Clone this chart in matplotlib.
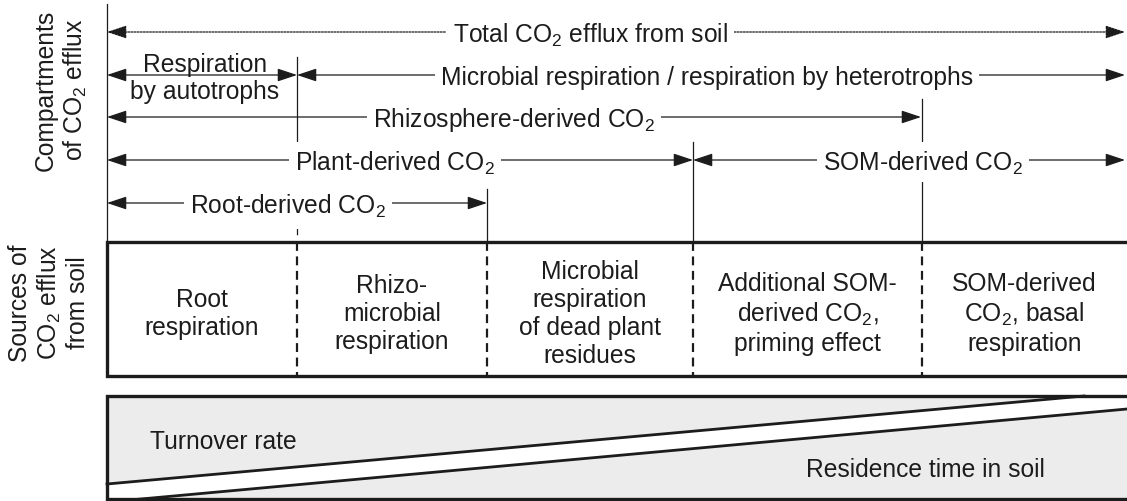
import matplotlib
matplotlib.use('Agg')
import matplotlib.pyplot as plt
from matplotlib.patches import Polygon

plt.rcParams['font.family'] = ['Liberation Sans', 'DejaVu Sans']
plt.rcParams['mathtext.default'] = 'regular'
plt.rcParams['hatch.color'] = '#d4d4d4'
plt.rcParams['hatch.linewidth'] = 0.6

## arrows of the compartments part (pixel coords of the picture)
arrow_y = [33, 76, 76, 118, 161, 161, 204]
arrow_x0 = [107, 107, 297, 107, 107, 693, 107]
arrow_x1 = [1125, 297, 1125, 921, 693, 1125, 487]
arrow_ls = [(0, (1.5, 1)), '-', '-', '-', '-', '-', '-']
arrow_labels = ['Total CO$_2$ efflux from soil',
                'Respiration\nby autotrophs',
                'Microbial respiration / respiration by heterotrophs',
                'Rhizosphere-derived CO$_2$',
                'Plant-derived CO$_2$',
                'SOM-derived CO$_2$',
                'Root-derived CO$_2$']
label_x = [590, 205, 707, 514, 395, 923, 288]
label_masked = [True, False, True, True, True, True, True]

## vertical guide lines
vline_x = [107, 297, 297, 487, 693, 922]
vline_y0 = [5, 58, 147, 190, 143, 100]
vline_y1 = [243, 147, 243, 243, 243, 243]
vline_ls = ['-', '-', (0, (5, 6)), '-', '-', '-']

## sources box
cell_edges = [107, 297, 487, 693, 922, 1127]
cell_labels = ['Root\nrespiration',
               'Rhizo-\nmicrobial\nrespiration',
               'Microbial\nrespiration\nof dead plant\nresidues',
               'Additional SOM-\nderived CO$_2$,\npriming effect',
               'SOM-derived\nCO$_2$, basal\nrespiration']
box_top, box_bottom = 243, 377

## turnover / residence box
lower_top, lower_bottom = 397, 500
turnover_line = [(107, 485), (1084, 397)]
residence_line = [(130, 501), (1127, 410)]

fs = 17.7
ink = '#1c1c1c'

fig = plt.figure(figsize=(11.27, 5.02), dpi=100)
ax = fig.add_axes([0, 0, 1, 1])
ax.set_xlim(0, 1127)
ax.set_ylim(502, 0)
ax.axis('off')

## vertical lines
for i in range(len(vline_x)):
    ax.plot([vline_x[i], vline_x[i]], [vline_y0[i], vline_y1[i]],
            color=ink, lw=0.9, ls=vline_ls[i], zorder=1)

## arrows + labels
for i in range(len(arrow_y)):
    ax.annotate('', xy=(arrow_x1[i], arrow_y[i]), xytext=(arrow_x0[i], arrow_y[i]),
                arrowprops=dict(arrowstyle='<|-|>,head_length=0.6,head_width=0.2',
                                color=ink, lw=0.9, ls=arrow_ls[i],
                                shrinkA=0, shrinkB=0, mutation_scale=20),
                zorder=2)
    if label_masked[i]:
        ax.text(label_x[i], arrow_y[i] + 2, arrow_labels[i], ha='center', va='center',
                fontsize=fs, color=ink, zorder=3,
                bbox=dict(boxstyle='square,pad=0.25', fc='white', ec='none'))
    else:
        ax.text(label_x[i], arrow_y[i] + 2.5, arrow_labels[i], ha='center', va='center',
                fontsize=fs, color=ink, zorder=3, linespacing=1.12)

## sources box
ax.plot([1127, 107, 107, 1127], [box_top, box_top, box_bottom, box_bottom],
        color=ink, lw=2.4, solid_joinstyle='miter', zorder=4)
for x in cell_edges[1:-1]:
    ax.plot([x, x], [box_top, box_bottom], color=ink, lw=1.6,
            ls=(0, (4, 2.5)), zorder=4)
for i in range(len(cell_labels)):
    cx = (cell_edges[i] + cell_edges[i + 1]) / 2
    ax.text(cx, (box_top + box_bottom) / 2 + 4, cell_labels[i], ha='center',
            va='center', fontsize=fs, color=ink, linespacing=1.22,
            multialignment='center')

## turnover / residence box
tri1 = Polygon([(107, lower_top), turnover_line[1], turnover_line[0]],
               closed=True, fc='#ececec', ec='none', hatch='.....', zorder=1)
tri2 = Polygon([residence_line[0], residence_line[1], (1127, lower_bottom)],
               closed=True, fc='#ececec', ec='none', hatch='.....', zorder=1)
ax.add_patch(tri1)
ax.add_patch(tri2)
ax.plot(*zip(*turnover_line), color=ink, lw=2.0, zorder=4)
ax.plot(*zip(*residence_line), color=ink, lw=2.0, zorder=4)
ax.plot([1127, 107, 107, 1127], [lower_top, lower_top, lower_bottom, lower_bottom],
        color=ink, lw=2.4, solid_joinstyle='miter', zorder=4)
ax.text(150, 442, 'Turnover rate', ha='left', va='center', fontsize=fs, color=ink)
ax.text(1045, 470, 'Residence time in soil', ha='right', va='center', fontsize=fs, color=ink)

## rotated side labels
ax.text(61, 90, 'Compartments\nof CO$_2$ efflux', rotation=90, ha='center', va='center',
        fontsize=fs, color=ink, linespacing=1.2, multialignment='center')
ax.text(49, 303, 'Sources of\nCO$_2$ efflux\nfrom soil', rotation=90, ha='center',
        va='center', fontsize=fs, color=ink, linespacing=1.15, multialignment='center')

fig.savefig('out.png', dpi=100, facecolor='white')
